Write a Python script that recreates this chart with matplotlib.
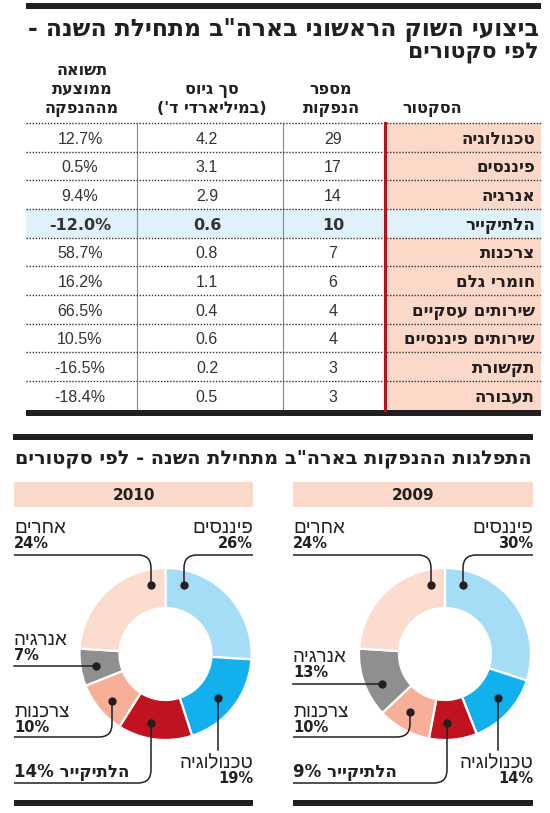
import re

import matplotlib
matplotlib.use("Agg")
import matplotlib.pyplot as plt
from matplotlib.patches import Rectangle, PathPatch
from matplotlib.path import Path

# ---- data -------------------------------------------------------------
SECTORS = ["טכנולוגיה", "פיננסים", "אנרגיה", "הלתיקייר", "צרכנות",
           "חומרי גלם", "שירותים עסקיים", "שירותים פיננסיים", "תקשורת", "תעבורה"]
N_IPOS = [29, 17, 14, 10, 7, 6, 4, 4, 3, 3]
RAISED_BN = [4.2, 3.1, 2.9, 0.6, 0.8, 1.1, 0.4, 0.6, 0.2, 0.5]
AVG_RETURN = [12.7, 0.5, 9.4, -12.0, 58.7, 16.2, 66.5, 10.5, -16.5, -18.4]
HIGHLIGHT = 3

PIE_LABELS = ["פיננסים", "טכנולוגיה", "הלתיקייר", "צרכנות", "אנרגיה", "אחרים"]
SHARE_2010 = [26, 19, 14, 10, 7, 24]
SHARE_2009 = [30, 14, 9, 10, 13, 24]
PIE_COLORS = ["#a5dcf6", "#12b0ec", "#c0121f", "#f7af98", "#8f8f8f", "#fbdccf"]

TITLE = "ביצועי השוק הראשוני בארה\"ב מתחילת השנה -"
TITLE2 = "לפי סקטורים"
SUBTITLE = "התפלגות ההנפקות בארה\"ב מתחילת השנה - לפי סקטורים"

BOLD = ["DejaVu Sans"]
THIN = ["Liberation Sans", "DejaVu Sans"]
INK = "#231f20"

_MIRROR = str.maketrans("()", ")(")


def rtl(s):
    # visual order for matplotlib, which has no bidi support
    parts = re.split(r"(\d[\d.,]*%?)", s)
    out = [p if re.fullmatch(r"\d[\d.,]*%?", p) else p[::-1].translate(_MIRROR)
           for p in parts]
    return "".join(reversed(out))


fig = plt.figure(figsize=(5.5, 8.13), dpi=100)
ax = fig.add_axes([0, 0, 1, 1])
ax.set_xlim(0, 550)
ax.set_ylim(813, 0)
ax.axis("off")
ax.set_zorder(3)
ax.patch.set_visible(False)
renderer = fig.canvas.get_renderer()


def fit_text(x, y, s, width, **kw):
    t = ax.text(x, y, s, **kw)
    bb = t.get_window_extent(renderer)
    t.set_fontsize(t.get_fontsize() * width / bb.width)
    return t


# ---- table --------------------------------------------------------------
ax.add_patch(Rectangle((26, 3), 515, 6, color=INK, lw=0))
fit_text(539, 36, rtl(TITLE), 513, ha="right", va="baseline", family=BOLD,
         fontweight="bold", fontsize=16, color=INK)
fit_text(539, 59, rtl(TITLE2), 131, ha="right", va="baseline", family=BOLD,
         fontweight="bold", fontsize=16, color=INK)

hdr = dict(ha="center", va="baseline", family=BOLD, fontweight="bold",
           fontsize=11.5, color=INK)
for txt, y in zip(["תשואה", "ממוצעת", "מההנפקה"], [75, 94, 113]):
    ax.text(82, y, rtl(txt), **hdr)
for txt, y in zip(["סך גיוס", "(במיליארדי ד')"], [94, 113]):
    ax.text(212, y, rtl(txt), **hdr)
for txt, y in zip(["מספר", "הנפקות"], [94, 113]):
    ax.text(331, y, rtl(txt), **hdr)
ax.text(432, 113, rtl("הסקטור"), **hdr)

top, rh = 123, 28.67
n = len(SECTORS)
bottom = top + rh * n
ax.add_patch(Rectangle((385, top), 156, bottom - top, color="#fbd8c8", lw=0, zorder=0))
ax.add_patch(Rectangle((26, top + rh * HIGHLIGHT), 515, rh, color="#dff1fb", lw=0, zorder=0.5))
for x in (137, 283):
    ax.plot([x, x], [top, bottom], color="#8a8a8a", lw=0.8, zorder=1)
ax.plot([385, 385], [top, bottom], color="#b5121b", lw=2.2, zorder=2)
for k in range(n):
    y = top + rh * k
    ax.plot([26, 541], [y, y], color="#333333", lw=1.0,
            linestyle=(0, (1, 1.2)), zorder=1)
ax.add_patch(Rectangle((26, bottom), 515, 6, color=INK, lw=0))

for i, name in enumerate(SECTORS):
    yb = top + rh * i + 20.5
    hl = i == HIGHLIGHT
    num = dict(ha="center", va="baseline", color="#333333", fontsize=11.5,
               family=BOLD if hl else THIN, fontweight="bold" if hl else "normal")
    ax.text(80, yb, f"{AVG_RETURN[i]:.1f}%", **num)
    ax.text(207, yb, f"{RAISED_BN[i]:.1f}", **num)
    ax.text(333, yb, f"{N_IPOS[i]}", **num)
    ax.text(535, yb, rtl(name), ha="right", va="baseline", family=BOLD,
            fontweight="bold", fontsize=12, color=INK)

# ---- donuts -------------------------------------------------------------
ax.add_patch(Rectangle((13, 434), 520, 6, color=INK, lw=0))
fit_text(532, 463, rtl(SUBTITLE), 518, ha="right", va="baseline", family=BOLD,
         fontweight="bold", fontsize=15, color=INK)

R = 86
panels = [
    # year, shares, left, right, centre x, dot positions, energy label baseline
    ("2010", SHARE_2010, 14, 253, 165.5,
     {"fin": (184, 585), "oth": (151, 585), "en": (96, 666), "con": (112, 701),
      "hc": (151, 723), "tech": (218, 698)}, 645),
    ("2009", SHARE_2009, 293, 533, 445,
     {"fin": (463, 585), "oth": (431, 585), "en": (382, 684), "con": (410, 712),
      "hc": (447, 723), "tech": (498, 698)}, 662),
]
cy = 654


def elbow(x0, y0, x1, y1, r=13):
    sx = 1 if x1 > x0 else -1
    sy = 1 if y1 > y0 else -1
    verts = [(x0, y0), (x1 - sx * r, y0), (x1, y0), (x1, y0 + sy * r), (x1, y1)]
    codes = [Path.MOVETO, Path.LINETO, Path.CURVE3, Path.CURVE3, Path.LINETO]
    ax.add_patch(PathPatch(Path(verts, codes), fill=False, ec=INK, lw=1.1,
                           capstyle="butt"))


name_kw = dict(va="baseline", family=THIN, fontsize=13.5, color=INK)
pct_kw = dict(va="baseline", family=BOLD, fontweight="bold", fontsize=10.5, color=INK)

for year, shares, xl, xr, cx, dots, en_base in panels:
    ax.add_patch(Rectangle((xl, 482), xr - xl, 25, color="#fbd9ca", lw=0))
    ax.text((xl + xr) / 2, 500, year, ha="center", va="baseline", family=BOLD,
            fontweight="bold", fontsize=11, color=INK)
    ax.add_patch(Rectangle((xl, 800), xr - xl, 6, color=INK, lw=0))

    pa = fig.add_axes([(cx - R) / 550, 1 - (cy + R) / 813, 2 * R / 550, 2 * R / 813])
    pa.set_zorder(1)
    pa.pie(shares, colors=PIE_COLORS, startangle=90, counterclock=False,
           radius=1, wedgeprops=dict(width=0.465, edgecolor="white", linewidth=1.6))
    pa.set_xlim(-1, 1)
    pa.set_ylim(-1, 1)
    pa.axis("off")

    fin, tech, hc, con, en, oth = [f"{v}%" for v in shares]
    # top labels
    ax.text(xr, 533, rtl(PIE_LABELS[0]), ha="right", **name_kw)
    ax.text(xr, 548, fin, ha="right", **pct_kw)
    ax.text(xl, 533, rtl(PIE_LABELS[5]), ha="left", **name_kw)
    ax.text(xl, 548, oth, ha="left", **pct_kw)
    elbow(xr, 555, *dots["fin"])
    elbow(xl, 555, *dots["oth"])
    # energy
    ax.text(xl, en_base, rtl(PIE_LABELS[4]), ha="left", **name_kw)
    ax.text(xl, en_base + 15, en, ha="left", **pct_kw)
    ey = dots["en"][1]
    ax.plot([xl, dots["en"][0]], [ey, ey], color=INK, lw=1.1)
    # consumer
    ax.text(xl, 717, rtl(PIE_LABELS[3]), ha="left", **name_kw)
    ax.text(xl, 732, con, ha="left", **pct_kw)
    elbow(xl, 737, *dots["con"])
    # healthcare
    ax.text(xl, 777, rtl(f"{PIE_LABELS[2]} {hc}"), ha="left", va="baseline",
            family=BOLD, fontweight="bold", fontsize=12, color=INK)
    elbow(xl, 783, *dots["hc"])
    # technology
    ax.text(xr, 768, rtl(PIE_LABELS[1]), ha="right", **name_kw)
    ax.text(xr, 783, tech, ha="right", **pct_kw)
    tx, ty = dots["tech"]
    ax.plot([tx, tx], [ty, 750], color=INK, lw=1.1)

    for x, y in dots.values():
        ax.plot(x, y, "o", color=INK, ms=5, zorder=5)

fig.savefig("out.png", dpi=100)
